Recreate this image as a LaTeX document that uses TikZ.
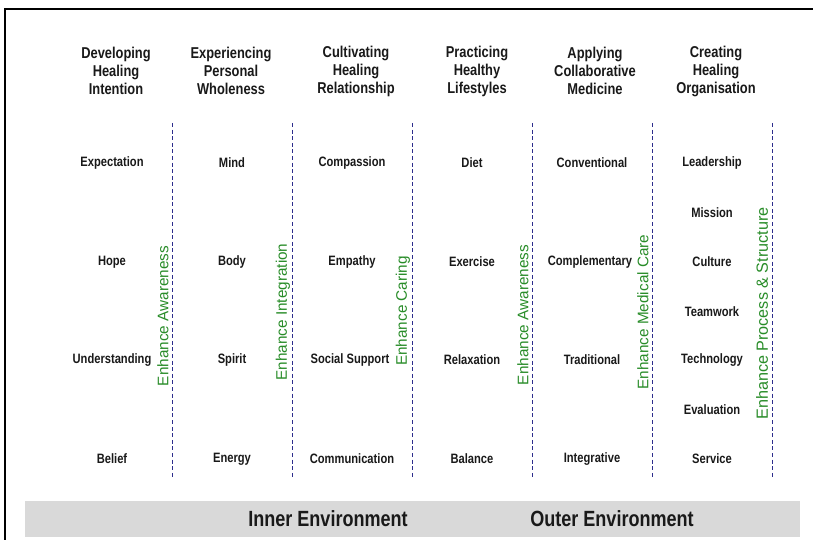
\documentclass[tikz,border=0pt]{standalone}
\usepackage{fontspec}
\setmainfont{Liberation Sans}
\newfontfamily\narrowfont[FakeStretch=0.82]{Liberation Sans}
\definecolor{labgreen}{RGB}{40,140,40}
\definecolor{dashblue}{RGB}{45,45,140}
\definecolor{bargray}{RGB}{217,217,217}
\definecolor{inkdark}{RGB}{25,25,25}
\begin{document}
\begin{tikzpicture}[x=1pt,y=-1pt,
  head/.style={font=\narrowfont\bfseries\fontsize{15.7}{18}\selectfont, align=center, inner sep=0pt, text=inkdark},
  item/.style={font=\narrowfont\bfseries\fontsize{13.6}{16}\selectfont, inner sep=0pt, text=inkdark},
  enh/.style={font=\fontsize{15.3}{18}\selectfont, text=labgreen, rotate=90, inner sep=0pt},
  sepline/.style={draw=dashblue, line width=1.2pt, dash pattern=on 4pt off 2.6pt},
  env/.style={font=\narrowfont\bfseries\fontsize{22}{26}\selectfont, inner sep=0pt, text=inkdark},
  framelines/.style={draw=black, line width=2pt}]
\useasboundingbox (0,0) rectangle (813,540);
% frame
\coordinate (fTL) at (5,9.5);
\coordinate (fTR) at (813,9.5);
\coordinate (fBL) at (5,540);
\draw[framelines] (fBL) -- (fTL) -- (fTR);
% bottom bar
\node[fill=bargray, minimum width=775pt, minimum height=36pt, inner sep=0pt, anchor=north west] (bar) at (25,501) {};
\node[env] (inner) at (328,519) {Inner Environment};
\node[env] (outer) at (612,519) {Outer Environment};
% headers
\node[head] (h1) at (116,71) {Developing\\Healing\\Intention};
\node[head] (h2) at (231,71) {Experiencing\\Personal\\Wholeness};
\node[head] (h3) at (356,71) {Cultivating\\Healing\\Relationship};
\node[head] (h4) at (477,71) {Practicing\\Healthy\\Lifestyles};
\node[head] (h5) at (595,71) {Applying\\Collaborative\\Medicine};
\node[head] (h6) at (716,71) {Creating\\Healing\\Organisation};
% separators
\foreach \i/\x in {1/172.5,2/292.5,3/412.5,4/532.5,5/652.5,6/772.5}{
  \coordinate (s\i t) at (\x,123);
  \coordinate (s\i b) at (\x,477);
  \draw[sepline] (s\i t) -- (s\i b);
}
% items
\foreach \n/\t [count=\k] in {163/Expectation,262/Hope,360/Understanding,459/Belief}
  \node[item] (c1i\k) at (112,\n) {\t};
\foreach \n/\t [count=\k] in {163/Mind,262/Body,360/Spirit,459/Energy}
  \node[item] (c2i\k) at (232,\n) {\t};
\node[item] (c3i1) at (352,163) {Compassion};
\node[item] (c3i2) at (352,262) {Empathy};
\node[item] (c3i3) at (350,360) {Social Support};
\node[item] (c3i4) at (352,459) {Communication};
\foreach \n/\t [count=\k] in {163/Diet,262/Exercise,360/Relaxation,459/Balance}
  \node[item] (c4i\k) at (472,\n) {\t};
\node[item] (c5i1) at (592,163) {Conventional};
\node[item] (c5i2) at (590,262) {Complementary};
\node[item] (c5i3) at (592,360) {Traditional};
\node[item] (c5i4) at (592,459) {Integrative};
\foreach \n/\t [count=\k] in {163/Leadership,213/Mission,262/Culture,312/Teamwork,360/Technology,410/Evaluation,459/Service}
  \node[item] (c6i\k) at (712,\n) {\t};
% green labels
\node[enh] (e1) at (163,316) {Enhance Awareness};
\node[enh] (e2) at (283,312) {Enhance Integration};
\node[enh] (e3) at (403,311) {Enhance Caring};
\node[enh] (e4) at (523,315) {Enhance Awareness};
\node[enh] (e5) at (643,312) {Enhance Medical Care};
\node[enh, font=\fontsize{16.2}{19}\selectfont] (e6) at (762,313.5) {Enhance Process \& Structure};
\end{tikzpicture}
\end{document}
